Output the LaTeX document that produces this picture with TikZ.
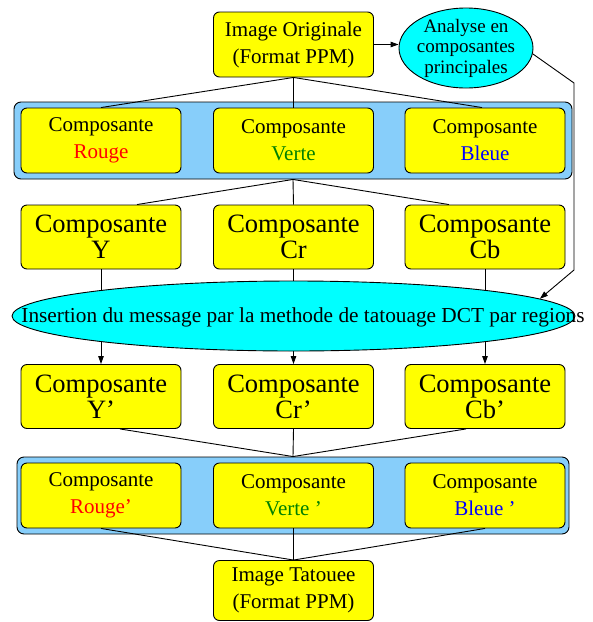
\documentclass[tikz,border=0pt]{standalone}
\usepackage{fontspec}
\setmainfont{Liberation Serif}
\usetikzlibrary{arrows.meta,shapes.geometric}
\definecolor{ciel}{RGB}{135,206,250}
\definecolor{vert}{RGB}{0,128,0}
\definecolor{jaune}{RGB}{255,255,0}
\definecolor{turquoise}{RGB}{0,255,255}
\definecolor{rouge}{RGB}{255,0,0}
\definecolor{bleu}{RGB}{0,0,255}
\begin{document}
\begin{tikzpicture}[x=1pt,y=-1pt,line width=0.9pt,
    box/.style={draw,fill=jaune,rounded corners=6pt,minimum width=160pt,minimum height=65pt,inner sep=0pt,align=center,font=\fontsize{21}{27}\selectfont},
    bigbox/.style={box,minimum height=64pt,font=\fontsize{26.5}{26}\selectfont},
    grp/.style={draw,fill=ciel,rounded corners=7pt,minimum height=77pt,inner sep=0pt},
    oval/.style={draw,fill=turquoise,ellipse,inner sep=0pt},
    fl/.style={-{Triangle[length=8pt,width=5.5pt]}}]
\useasboundingbox (0,0) rectangle (593,622);
% source
\node[box] (orig) at (293.5,44.5) {Image Originale\\(Format PPM)};
\node[oval,minimum width=134pt,minimum height=80pt] (ana) at (466,48) {};
\node[align=center,font=\fontsize{19}{20.5}\selectfont] (anatxt) at (ana) {Analyse en\\composantes\\principales};
\draw[fl] (orig.east) -- (ana.west |- orig.east);
% RGB
\node[grp,minimum width=558pt] (rgb) at (293,140.5) {};
\node[box] (rouge) at (101,140.5) {Composante\\\textcolor{rouge}{Rouge}};
\node[box] (verte) at (293.5,140.5) {Composante\\\textcolor{vert}{Verte}};
\node[box] (bleue) at (485,140.5) {Composante\\\textcolor{bleu}{Bleue}};
\draw (orig.south) -- (rouge.north);
\draw (orig.south) -- (verte.north);
\draw (orig.south) -- ([xshift=-3pt]bleue.north);
% YCrCb
\node[bigbox] (y) at (101,237) {Composante\\Y};
\node[bigbox] (cr) at (293.5,237) {Composante\\Cr};
\node[bigbox] (cb) at (485,237) {Composante\\Cb};
\draw (rgb.south) -- ([xshift=36pt]y.north);
\draw (rgb.south) -- (cr.north);
\draw (rgb.south) -- ([xshift=-36pt]cb.north);
% marquees
\node[bigbox] (yp) at (101,396.5) {Composante\\Y'};
\node[bigbox] (crp) at (293.5,396.5) {Composante\\Cr'};
\node[bigbox] (cbp) at (485,396.5) {Composante\\Cb'};
\draw[fl] (y) -- (yp);
\draw[fl] (cr) -- (crp);
\draw[fl] (cb) -- (cbp);
\node[oval,minimum width=563pt,minimum height=70pt] (ins) at (293.5,316) {};
\node[font=\fontsize{21.3}{27}\selectfont] (instxt) at (303,317) {Insertion du message par la methode de tatouage DCT par regions};
\coordinate (c1) at (574,83);
\coordinate (c2) at (574,270);
\draw[fl] (ana.-5) -- (c1) -- (c2) -- (ins.4);
% RGB'
\node[grp,minimum width=552pt] (rgbp) at (293,495.5) {};
\node[box] (rougep) at (101,495.5) {Composante\\\textcolor{rouge}{Rouge'}};
\node[box] (vertep) at (293.5,495.5) {Composante\\\textcolor{vert}{Verte '}};
\node[box] (bleuep) at (485,495.5) {Composante\\\textcolor{bleu}{Bleue '}};
\draw ([xshift=19pt]yp.south) -- (rgbp.north);
\draw (crp.south) -- (rgbp.north);
\draw ([xshift=-19pt]cbp.south) -- (rgbp.north);
% sortie
\node[box,minimum height=60pt] (tat) at (293.5,590.5) {Image Tatouee\\(Format PPM)};
\draw (rougep.south) -- (tat.north);
\draw (vertep.south) -- (tat.north);
\draw (bleuep.south) -- (tat.north);
\end{tikzpicture}
\end{document}
